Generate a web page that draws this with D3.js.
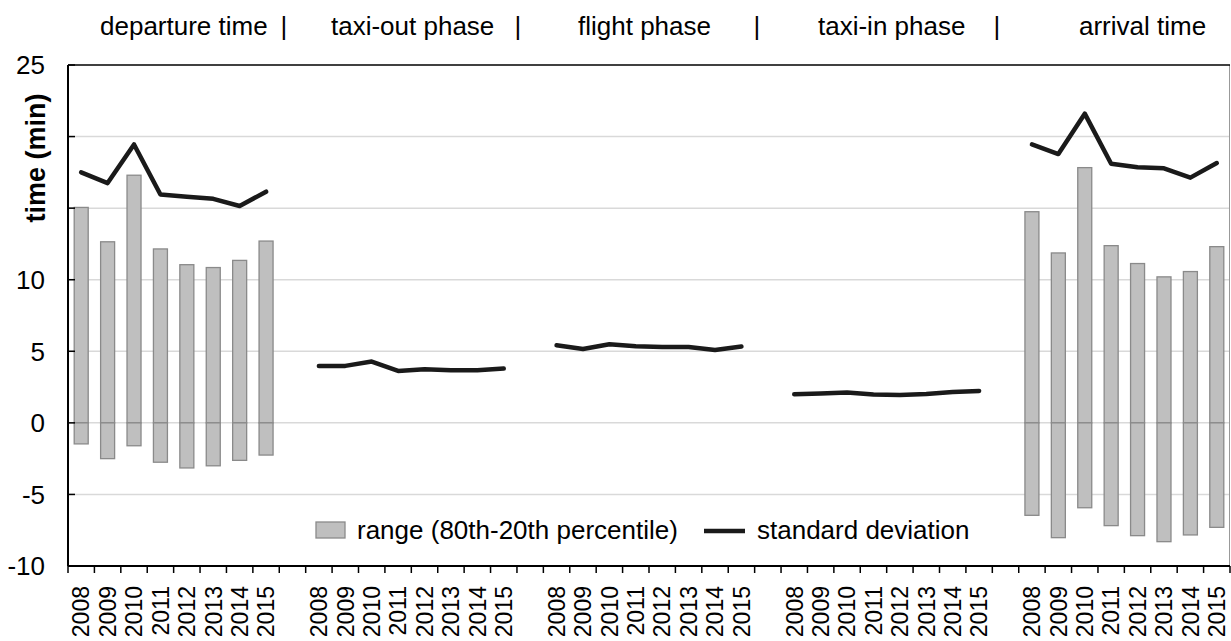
<!DOCTYPE html>
<html>
<head>
<meta charset="utf-8">
<script src="https://cdn.jsdelivr.net/npm/d3@7"></script>
<style>
  body { margin: 0; background: #fff; }
  text { font-family: Arial, "Liberation Sans", sans-serif; fill: #000; }
</style>
</head>
<body>
<script>
// phases along the x axis, each with the same eight years
const phases = ["departure time", "taxi-out phase", "flight phase", "taxi-in phase", "arrival time"];
const years = ["2008", "2009", "2010", "2011", "2012", "2013", "2014", "2015"];

// standard deviation (min) per phase
const sdDeparture = [17.5, 16.75, 19.45, 15.95, 15.8, 15.65, 15.15, 16.15];
const sdTaxiOut   = [3.98, 3.98, 4.28, 3.63, 3.74, 3.67, 3.67, 3.79];
const sdFlight    = [5.42, 5.16, 5.49, 5.35, 5.3, 5.3, 5.09, 5.33];
const sdTaxiIn    = [2.0, 2.05, 2.12, 1.98, 1.95, 2.02, 2.15, 2.23];
const sdArrival   = [19.45, 18.78, 21.6, 18.1, 17.85, 17.78, 17.13, 18.15];

// 80th / 20th percentile (min), only for departure and arrival
const p80Departure = [15.05, 12.65, 17.3, 12.15, 11.05, 10.85, 11.35, 12.7];
const p20Departure = [-1.47, -2.5, -1.6, -2.75, -3.15, -3.0, -2.62, -2.25];
const p80Arrival   = [14.75, 11.87, 17.83, 12.38, 11.13, 10.2, 10.57, 12.31];
const p20Arrival   = [-6.46, -8.02, -5.93, -7.18, -7.88, -8.3, -7.83, -7.3];

const yTicks = [25, 20, 15, 10, 5, 0, -5, -10];
const yLabels = [25, 10, 5, 0, -5, -10];

const sdSeries = [sdDeparture, sdTaxiOut, sdFlight, sdTaxiIn, sdArrival];
const rangeSeries = [
  {phase: 0, hi: p80Departure, lo: p20Departure},
  {phase: 4, hi: p80Arrival, lo: p20Arrival}
];

const width = 1231, height = 641;
const margin = {top: 65, right: 1, bottom: 75, left: 68};

// one slot per year, one empty slot between phases
const slots = [];
phases.forEach((p, i) => {
  years.forEach(y => slots.push(i + "-" + y));
  if (i < phases.length - 1) slots.push("gap" + i);
});

const x = d3.scaleBand()
  .domain(slots)
  .range([margin.left, width - margin.right])
  .padding(0);

const y = d3.scaleLinear()
  .domain([-10, 25])
  .range([height - margin.bottom, margin.top]);

const svg = d3.select("body").append("svg")
  .attr("width", width)
  .attr("height", height);

// gridlines
svg.append("g").selectAll("line")
  .data(yTicks.filter(d => d > -10 && d < 25))
  .join("line")
    .attr("x1", margin.left)
    .attr("x2", width - margin.right)
    .attr("y1", d => y(d))
    .attr("y2", d => y(d))
    .attr("stroke", "#d9d9d9")
    .attr("stroke-width", 1.5);

// right border
svg.append("line")
  .attr("x1", width - margin.right - 0.5).attr("x2", width - margin.right - 0.5)
  .attr("y1", y(25)).attr("y2", y(-10))
  .attr("stroke", "#999").attr("stroke-width", 1);

// top border
svg.append("line")
  .attr("x1", margin.left).attr("x2", width - margin.right)
  .attr("y1", y(25)).attr("y2", y(25))
  .attr("stroke", "#000").attr("stroke-width", 1.5);

// bars: positive part and negative part drawn separately
const barW = x.bandwidth() * 0.53;
rangeSeries.forEach(s => {
  const g = svg.append("g");
  years.forEach((yr, i) => {
    const cx = x(s.phase + "-" + yr) + x.bandwidth() / 2;
    g.append("rect")
      .attr("x", cx - barW / 2)
      .attr("width", barW)
      .attr("y", y(s.hi[i]))
      .attr("height", y(0) - y(s.hi[i]))
      .attr("fill", "#bfbfbf")
      .attr("stroke", "#8a8a8a")
      .attr("stroke-width", 1.3);
    g.append("rect")
      .attr("x", cx - barW / 2)
      .attr("width", barW)
      .attr("y", y(0))
      .attr("height", y(s.lo[i]) - y(0))
      .attr("fill", "#bfbfbf")
      .attr("stroke", "#8a8a8a")
      .attr("stroke-width", 1.3);
  });
});

// standard deviation lines
const line = d3.line()
  .x(d => x(d.slot) + x.bandwidth() / 2)
  .y(d => y(d.v));

sdSeries.forEach((vals, p) => {
  svg.append("path")
    .datum(vals.map((v, i) => ({slot: p + "-" + years[i], v})))
    .attr("d", line)
    .attr("fill", "none")
    .attr("stroke", "#1a1a1a")
    .attr("stroke-width", 4.5)
    .attr("stroke-linejoin", "round")
    .attr("stroke-linecap", "round");
});

// y axis
svg.append("line")
  .attr("x1", margin.left).attr("x2", margin.left)
  .attr("y1", y(25)).attr("y2", y(-10))
  .attr("stroke", "#000").attr("stroke-width", 2);

svg.append("g").selectAll("line")
  .data(yTicks)
  .join("line")
    .attr("x1", margin.left)
    .attr("x2", margin.left + 7)
    .attr("y1", d => y(d))
    .attr("y2", d => y(d))
    .attr("stroke", "#000")
    .attr("stroke-width", 1.5);

svg.append("g").selectAll("text")
  .data(yLabels)
  .join("text")
    .attr("x", 45)
    .attr("y", d => y(d))
    .attr("dy", "0.36em")
    .attr("text-anchor", "end")
    .style("font-size", "26px")
    .text(d => d);

svg.append("text")
  .attr("transform", "translate(45,158) rotate(-90)")
  .attr("text-anchor", "middle")
  .style("font-size", "27px")
  .style("font-weight", "bold")
  .text("time (min)");

// x axis
const x0 = margin.left, step = x.step();
svg.append("line")
  .attr("x1", margin.left).attr("x2", width - margin.right)
  .attr("y1", y(-10)).attr("y2", y(-10))
  .attr("stroke", "#000").attr("stroke-width", 2);

svg.append("g").selectAll("line")
  .data(d3.range(slots.length + 1))
  .join("line")
    .attr("x1", i => x0 + i * step)
    .attr("x2", i => x0 + i * step)
    .attr("y1", y(-10))
    .attr("y2", y(-10) + 7)
    .attr("stroke", "#000")
    .attr("stroke-width", 1.5);

svg.append("g").selectAll("text")
  .data(slots.filter(s => !s.startsWith("gap")))
  .join("text")
    .attr("transform", s => `translate(${x(s) + x.bandwidth() / 2},${y(-10) + 20}) rotate(-90)`)
    .attr("dy", "0.36em")
    .attr("text-anchor", "end")
    .style("font-size", "23px")
    .text(s => s.split("-")[1]);

// phase headers
const headerX = [100, 331, 578, 818, 1079];
const pipeX = [284, 518, 757, 997];
svg.append("g").selectAll("text")
  .data(phases)
  .join("text")
    .attr("x", (d, i) => headerX[i])
    .attr("y", 35)
    .style("font-size", "26px")
    .text(d => d);
svg.append("g").selectAll("text")
  .data(pipeX)
  .join("text")
    .attr("x", d => d)
    .attr("y", 35)
    .attr("text-anchor", "middle")
    .style("font-size", "26px")
    .text("|");

// legend
const lg = svg.append("g");
lg.append("rect")
  .attr("x", 316).attr("y", 522).attr("width", 29).attr("height", 16)
  .attr("fill", "#bfbfbf").attr("stroke", "#8a8a8a").attr("stroke-width", 1.3);
lg.append("text")
  .attr("x", 357).attr("y", 530).attr("dy", "0.36em")
  .style("font-size", "26px")
  .text("range (80th-20th percentile)");
lg.append("line")
  .attr("x1", 704).attr("x2", 745).attr("y1", 531).attr("y2", 531)
  .attr("stroke", "#1a1a1a").attr("stroke-width", 4.5);
lg.append("text")
  .attr("x", 757).attr("y", 530).attr("dy", "0.36em")
  .style("font-size", "26px")
  .text("standard deviation");
</script>
</body>
</html>
